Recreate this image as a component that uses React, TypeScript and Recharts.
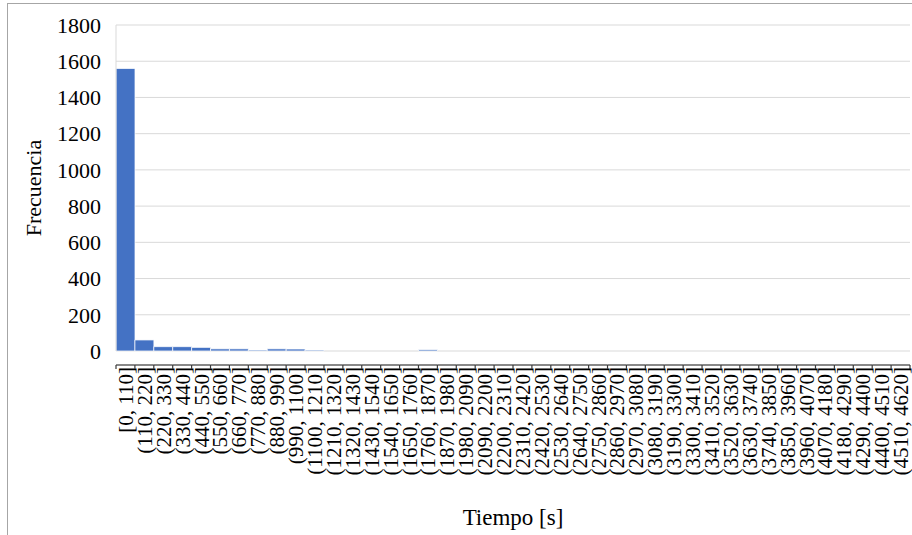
import { BarChart, Bar, XAxis, YAxis, CartesianGrid } from 'recharts';

// histogram bins (seconds)
const binLabels = [
  '[0, 110]', '(110, 220]', '(220, 330]', '(330, 440]', '(440, 550]', '(550, 660]',
  '(660, 770]', '(770, 880]', '(880, 990]', '(990, 1100]', '(1100, 1210]', '(1210, 1320]',
  '(1320, 1430]', '(1430, 1540]', '(1540, 1650]', '(1650, 1760]', '(1760, 1870]', '(1870, 1980]',
  '(1980, 2090]', '(2090, 2200]', '(2200, 2310]', '(2310, 2420]', '(2420, 2530]', '(2530, 2640]',
  '(2640, 2750]', '(2750, 2860]', '(2860, 2970]', '(2970, 3080]', '(3080, 3190]', '(3190, 3300]',
  '(3300, 3410]', '(3410, 3520]', '(3520, 3630]', '(3630, 3740]', '(3740, 3850]', '(3850, 3960]',
  '(3960, 4070]', '(4070, 4180]', '(4180, 4290]', '(4290, 4400]', '(4400, 4510]', '(4510, 4620]',
];

const frequencies = [
  1560, 61, 24, 24, 20, 12, 12, 5, 12, 11, 5, 0,
  0, 0, 0, 0, 7, 0, 0, 0, 0, 0, 0, 0,
  0, 0, 0, 0, 0, 0, 0, 0, 0, 0, 0, 0,
  0, 0, 0, 0, 0, 0,
];

const yTicks = [0, 200, 400, 600, 800, 1000, 1200, 1400, 1600, 1800];

const data = binLabels.map((bin, i) => ({ bin, value: frequencies[i] }));

const FONT = 'Liberation Serif, DejaVu Serif, serif';

function BinTick(props: any) {
  const { x, y, payload, index } = props;
  const half = payload?.offset || 9.45;
  const lineY = y + 14;
  const last = index === binLabels.length - 1;
  return (
    <g>
      <line x1={x - half} x2={x + half} y1={lineY} y2={lineY} stroke="#3a3a3a" strokeWidth={1.2} />
      <line x1={x - half} x2={x - half} y1={lineY} y2={lineY + 4} stroke="#3a3a3a" strokeWidth={1.2} />
      {last && <line x1={x + half} x2={x + half} y1={lineY} y2={lineY + 4} stroke="#3a3a3a" strokeWidth={1.2} />}
      <text
        transform={`translate(${x + 7.5},${y + 16}) rotate(-90)`}
        textAnchor="end"
        style={{ fontSize: 21, fontFamily: FONT, fill: '#000' }}
      >
        {payload.value}
      </text>
    </g>
  );
}

export default function App() {
  return (
    <div style={{ position: 'absolute', left: 0, top: 0, width: 912, height: 535, overflow: 'hidden', background: '#fff', fontFamily: FONT }}>
      <div style={{ position: 'absolute', left: 7, top: 3, width: 940, height: 580, border: '1px solid #a6a6a6' }} />
      <div style={{ position: 'absolute', left: 0, top: 0 }}>
        <BarChart
          width={912}
          height={535}
          data={data}
          margin={{ top: 25, right: 2, left: 0, bottom: 0 }}
          barCategoryGap={0}
          barGap={0}
          style={{ fontFamily: FONT }}
        >
          <CartesianGrid vertical={false} stroke="#d9d9d9" />
          <XAxis
            dataKey="bin"
            interval={0}
            height={184}
            tickSize={0}
            tickMargin={0}
            axisLine={false}
            tickLine={false}
            tick={<BinTick />}
            label={{
              value: 'Tiempo [s]',
              position: 'insideBottom',
              offset: 10,
              style: { fontSize: 23, fontFamily: FONT, fill: '#000' },
            }}
          />
          <YAxis
            width={116}
            domain={[0, 1800]}
            ticks={yTicks}
            tickLine={false}
            axisLine={{ stroke: '#d9d9d9' }}
            tickSize={0}
            tickMargin={15}
            tick={{ fontSize: 22, fontFamily: FONT, fill: '#000', style: { fontFamily: FONT } }}
            label={{
              value: 'Frecuencia',
              angle: -90,
              position: 'insideLeft',
              offset: 33,
              style: { fontSize: 22, fontFamily: FONT, fill: '#000', textAnchor: 'middle' },
            }}
          />
          <Bar dataKey="value" fill="#4472C4" stroke="#ffffff" strokeWidth={0.75} isAnimationActive={false} />
        </BarChart>
      </div>
    </div>
  );
}
